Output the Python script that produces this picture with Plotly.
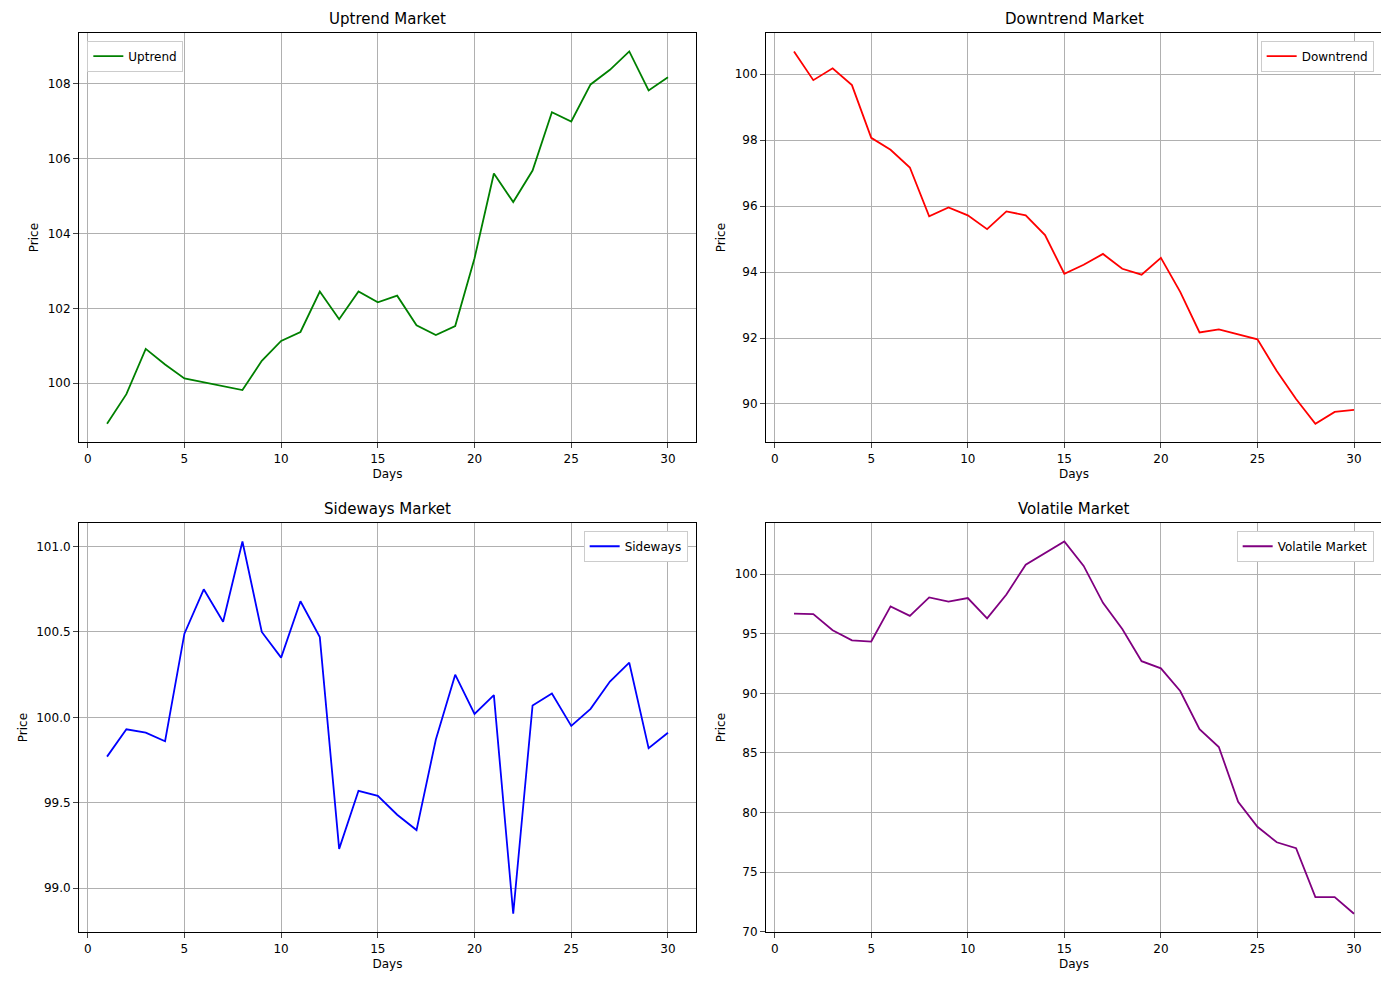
import plotly.graph_objects as go

days = list(range(1, 31))
uptrend = [98.92,99.71,100.92,100.5,100.13,100.03,99.92,99.82,100.6,101.13,101.37,102.45,101.71,102.45,102.16,102.34,101.55,101.29,101.53,103.34,105.6,104.84,105.68,107.24,106.99,107.98,108.37,108.86,107.82,108.17]
downtrend = [100.69,99.82,100.18,99.67,98.07,97.71,97.17,95.69,95.96,95.72,95.3,95.84,95.72,95.12,93.95,94.22,94.55,94.1,93.92,94.43,93.4,92.17,92.26,92.11,91.96,91.0,90.15,89.4,89.76,89.82]
sideways = [99.77,99.93,99.91,99.86,100.49,100.75,100.56,101.03,100.5,100.35,100.68,100.47,99.23,99.57,99.54,99.43,99.34,99.87,100.25,100.02,100.13,98.85,100.07,100.14,99.95,100.05,100.21,100.32,99.82,99.91]
volatile = [96.7,96.65,95.3,94.45,94.35,97.3,96.5,98.05,97.7,98.0,96.3,98.3,100.8,101.8,102.75,100.7,97.6,95.4,92.7,92.1,90.2,87.0,85.5,80.9,78.8,77.5,77.0,72.9,72.9,71.5]

panels = [
    ("Uptrend Market", "Uptrend", uptrend, "green", 2, None, "left"),
    ("Downtrend Market", "Downtrend", downtrend, "red", 2, None, "right"),
    ("Sideways Market", "Sideways", sideways, "blue", 0.5, ".1f", "right"),
    ("Volatile Market", "Volatile Market", volatile, "purple", 5, None, "right"),
]
W, H = 1389, 990
xd = [[71/W, 688/W], [758/W, 1374/W]]
yd = [[(H-437)/H, (H-25)/H], [(H-930)/H, (H-518)/H]]

fig = go.Figure()
font = dict(family="DejaVu Sans", size=13, color="black")
for i, (title, name, vals, col, dt, fmt, side) in enumerate(panels):
    r, c = divmod(i, 2)
    n = "" if i == 0 else str(i + 1)
    lg = "legend" + n
    fig.add_trace(go.Scatter(x=days, y=vals, mode="lines", name=name, showlegend=True,
                             line=dict(color=col, width=1.8),
                             xaxis="x" + n, yaxis="y" + n, legend=lg))
    lo, hi = min(vals), max(vals)
    pad = (hi - lo) * 0.05
    ax = dict(showline=True, linecolor="black", mirror=True, ticks="outside",
              showgrid=True, gridcolor="#b0b0b0", gridwidth=1, zeroline=False,
              tickfont=dict(size=12), title_font=dict(size=12))
    fig.layout["xaxis" + n] = dict(ax, domain=xd[c], range=[-0.45, 31.45], dtick=5, tick0=0,
                                   anchor="y" + n, title=dict(text="Days", standoff=4))
    fig.layout["yaxis" + n] = dict(ax, domain=yd[r], range=[lo - pad, hi + pad], dtick=dt,
                                   tickformat=fmt, anchor="x" + n, title=dict(text="Price", standoff=6))
    x0 = xd[c][0] + 0.006 if side == "left" else xd[c][1] - 0.006
    fig.layout[lg] = dict(x=x0, y=yd[r][1] - 0.008, xanchor=side, yanchor="top",
                          bgcolor="white", bordercolor="#cccccc", borderwidth=1,
                          font=dict(size=12))
    fig.add_annotation(text=title, x=sum(xd[c]) / 2, y=yd[r][1], xref="paper", yref="paper",
                       xanchor="center", yanchor="bottom", yshift=3, showarrow=False,
                       font=dict(size=15))

fig.update_layout(width=W, height=H, margin=dict(l=0, r=0, t=0, b=0),
                  plot_bgcolor="white", paper_bgcolor="white", font=font)
fig.write_html("out.html")
